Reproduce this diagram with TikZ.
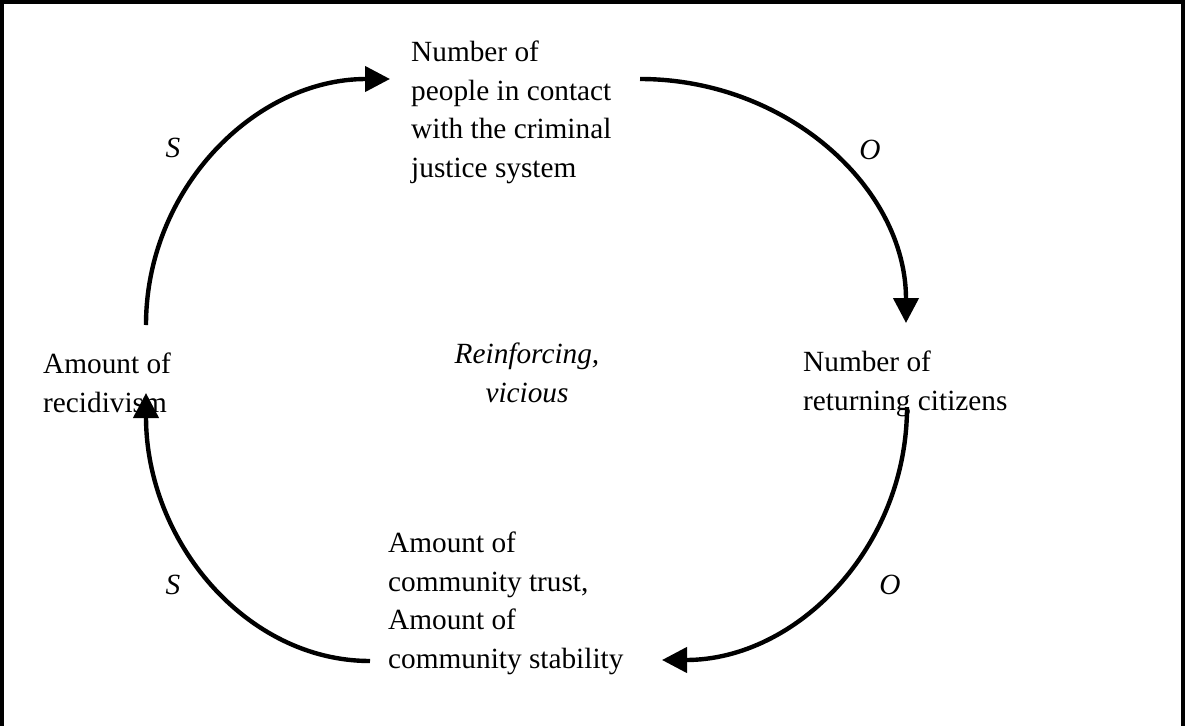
\documentclass[tikz,border=0pt]{standalone}
\usepackage{fontspec}
\setmainfont{Liberation Serif}
\usetikzlibrary{arrows.meta}
\begin{document}
\begin{tikzpicture}[x=1pt,y=-1pt,
  lbl/.style={font=\fontsize{29.3}{38.5}\selectfont, align=left, anchor=base west, inner sep=0pt},
  sign/.style={font=\fontsize{29.3}{38.5}\selectfont\itshape, inner sep=0pt},
  conn/.style={line width=4.4pt, -{Triangle[length=25pt,width=25pt]}},
  frame/.style={line width=3.5pt}]
\useasboundingbox (0,0) rectangle (1185,725);
\draw[frame] (2,745) -- (2,2) -- (1183,2) -- (1183,745);
% variables (anchored at the baseline of their last line)
\node[lbl] (cjs) at (411,177) {Number of\\people in contact\\with the criminal\\justice system};
\node[lbl] (ret) at (803,410) {Number of\\returning citizens};
\node[lbl] (rec) at (43,412) {Amount of\\recidivism};
\node[lbl] (com) at (388,668) {Amount of\\community trust,\\Amount of\\community stability};
\node[sign, align=center, anchor=base] (loop) at (527,402) {Reinforcing,\\vicious};
% polarity labels
\node[sign] (s1) at (173,148) {S};
\node[sign] (o1) at (870,150) {O};
\node[sign] (o2) at (890,585) {O};
\node[sign] (s2) at (173,585) {S};
% connector end points
\coordinate (recT) at (146,325);
\coordinate (cjsL) at (390,79);
\coordinate (cjsR) at (640,79);
\coordinate (retT) at (906,323);
\coordinate (retB) at (907,407);
\coordinate (comR) at (662,660);
\coordinate (comL) at (370,661);
\coordinate (recB) at (146,393);
% connectors
\draw[conn] (recT) .. controls (146,189) and (255,79) .. (cjsL);
\draw[conn] (cjsR) .. controls (787,79) and (906,188) .. (retT);
\draw[conn] (retB) .. controls (907,547) and (797,660) .. (comR);
\draw[conn] (comL) .. controls (246,661) and (146,541) .. (recB);
\end{tikzpicture}
\end{document}
